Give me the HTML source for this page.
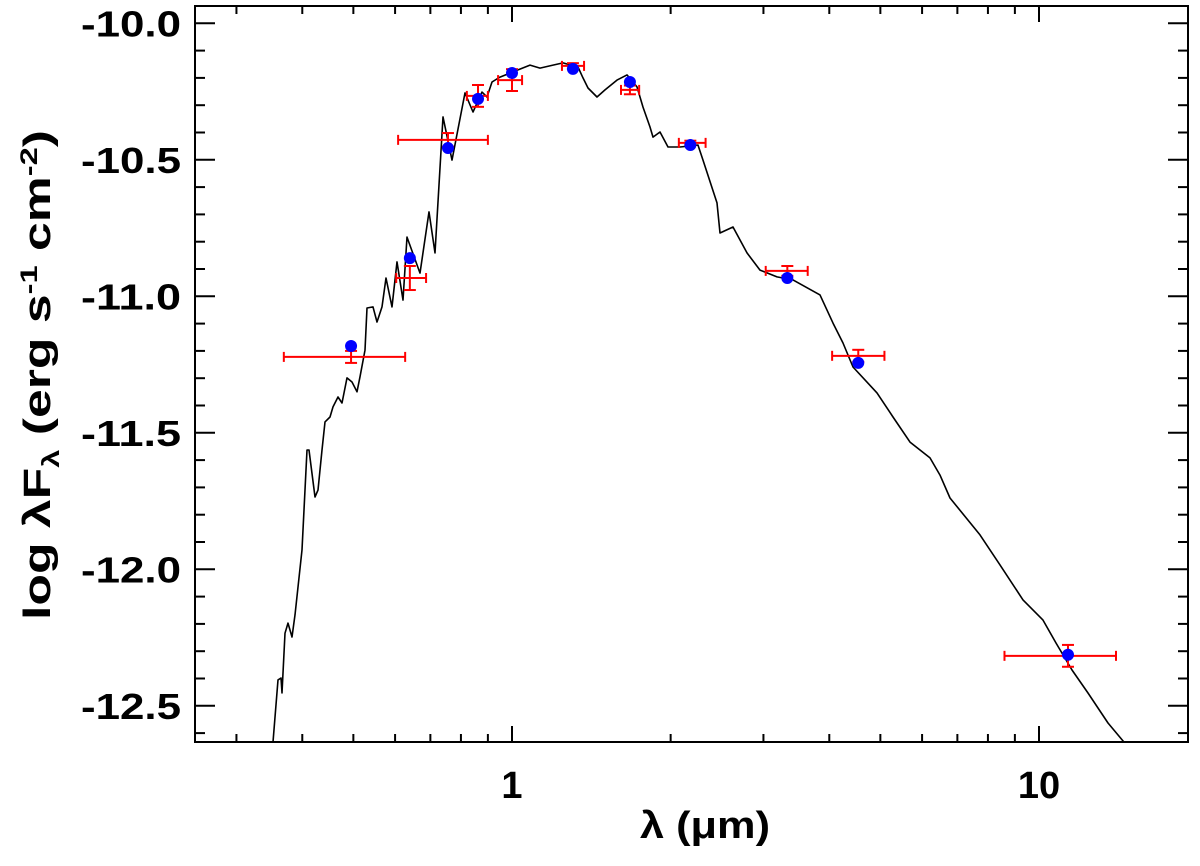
<!DOCTYPE html>
<html><head><meta charset="utf-8"><style>
html,body{margin:0;padding:0;background:#fff;}
svg{display:block;font-family:"Liberation Sans",sans-serif;}
</style></head><body>
<svg id="chart" width="1200" height="866" viewBox="0 0 1200 866" xmlns="http://www.w3.org/2000/svg">
<defs><clipPath id="plotclip"><rect x="195" y="6" width="993" height="736"/></clipPath></defs>
<g id="curve" clip-path="url(#plotclip)"></g>
<g id="errs"></g>
<g id="pts"></g>
<g id="axes"></g>
<text x="705" y="838" text-anchor="middle" font-size="38" font-weight="bold" textLength="130" lengthAdjust="spacingAndGlyphs">λ (μm)</text>
<text transform="translate(50,375) rotate(-90)" text-anchor="middle" font-size="38" font-weight="bold" textLength="490" lengthAdjust="spacingAndGlyphs">log λF<tspan font-size="24" dy="9">λ</tspan><tspan dy="-9"> (erg s</tspan><tspan font-size="24" dy="-13">-1</tspan><tspan dy="13"> cm</tspan><tspan font-size="24" dy="-13">-2</tspan><tspan dy="13">)</tspan></text>
</svg>
<script>
// model spectrum: log10(lambda/um) and log lambda F_lambda
const modelLogLam = [-0.4535,-0.444,-0.4383,-0.4364,-0.4307,-0.425,-0.4175,-0.4118,-0.3985,-0.389,-0.3852,-0.3738,-0.3681,-0.3605,-0.3548,-0.3454,-0.3397,-0.3302,-0.3226,-0.3131,-0.3036,-0.2941,-0.2884,-0.2789,-0.2751,-0.2638,-0.2562,-0.2467,-0.2391,-0.2277,-0.2182,-0.2068,-0.1992,-0.1746,-0.1575,-0.1461,-0.1309,-0.1139,-0.0892,-0.074,-0.0569,-0.0474,-0.038,-0.0228,0.0019,0.0342,0.0531,0.0778,0.0968,0.1252,0.1347,0.1442,0.1613,0.1765,0.1992,0.2182,0.2372,0.2486,0.2619,0.2676,0.2808,0.296,0.3188,0.3529,0.3624,0.389,0.3947,0.4194,0.4459,0.4706,0.5028,0.5332,0.5844,0.6091,0.6281,0.6471,0.6926,0.723,0.7552,0.7932,0.8121,0.8311,0.888,0.926,0.9696,1.0076,1.0323,1.0626,1.093,1.1309,1.1613];
const modelFlux = [-12.633,-12.405,-12.398,-12.453,-12.234,-12.197,-12.248,-12.167,-11.929,-11.563,-11.563,-11.735,-11.71,-11.563,-11.46,-11.442,-11.405,-11.369,-11.391,-11.299,-11.314,-11.35,-11.295,-11.197,-11.043,-11.039,-11.094,-11.039,-10.933,-11.039,-10.874,-11.014,-10.783,-10.915,-10.691,-10.841,-10.343,-10.501,-10.255,-10.325,-10.252,-10.27,-10.215,-10.197,-10.178,-10.153,-10.164,-10.153,-10.145,-10.16,-10.2,-10.237,-10.27,-10.244,-10.208,-10.189,-10.233,-10.307,-10.38,-10.417,-10.398,-10.453,-10.453,-10.446,-10.501,-10.658,-10.768,-10.746,-10.841,-10.904,-10.929,-10.94,-10.995,-11.098,-11.171,-11.259,-11.354,-11.442,-11.534,-11.592,-11.655,-11.739,-11.874,-11.984,-12.112,-12.186,-12.27,-12.369,-12.453,-12.563,-12.633];
// synthetic photometry (blue)
const synLam = [0.495,0.640,0.756,0.862,1.0,1.305,1.674,2.18,3.33,4.54,11.35];
const synFlux = [-11.182,-10.860,-10.457,-10.277,-10.182,-10.167,-10.215,-10.446,-10.933,-11.244,-12.313];
// observed photometry (red)
const obsLam = [0.495,0.640,0.756,0.862,1.0,1.305,1.674,2.18,3.33,4.54,11.35];
const obsLamLo = [0.369,0.603,0.608,0.821,0.941,1.244,1.610,2.073,3.03,4.05,8.6];
const obsLamHi = [0.627,0.687,0.900,0.900,1.045,1.370,1.743,2.33,3.64,5.09,14.0];
const obsFlux = [-11.222,-10.933,-10.427,-10.266,-10.208,-10.156,-10.244,-10.438,-10.907,-11.218,-12.317];
const obsErr = [0.022,0.044,0.025,0.04,0.04,0.01,0.016,0.008,0.018,0.022,0.04];
const yTicks = [-10.0,-10.5,-11.0,-11.5,-12.0,-12.5];
const yTickLabels = ["-10.0","-10.5","-11.0","-11.5","-12.0","-12.5"];
const xTicks = [1,10];
const xTickLabels = ["1","10"];

const X0=195,X1=1188,Y0=6,Y1=742;
function xs(l){return 512+Math.log10(l)*527;}
function xsLog(lg){return 512+lg*527;}
function ys(v){return 23.3+(-10-v)*273;}
const NS="http://www.w3.org/2000/svg";
function mk(tag,attrs,parent){const e=document.createElementNS(NS,tag);for(const k in attrs)e.setAttribute(k,attrs[k]);parent.appendChild(e);return e;}

const curveG=document.getElementById('curve');
let d='';
for(let i=0;i<modelLogLam.length;i++){d+=(i?'L':'M')+xsLog(modelLogLam[i]).toFixed(1)+','+ys(modelFlux[i]).toFixed(1);}
const cp=mk('path',{d:d,fill:'none',stroke:'#000','stroke-width':1.6,'stroke-linejoin':'round'},curveG);



const eg=document.getElementById('errs');
for(let i=0;i<obsLam.length;i++){
  const g=mk('g',{stroke:'#f00','stroke-width':2,fill:'none'},eg);
  
  
  const cx=xs(obsLam[i]),cy=ys(obsFlux[i]),lo=xs(obsLamLo[i]),hi=xs(obsLamHi[i]);
  const ya=ys(obsFlux[i]+obsErr[i]),yb=ys(obsFlux[i]-obsErr[i]);
  mk('line',{x1:lo,y1:cy,x2:hi,y2:cy},g);
  mk('line',{x1:lo,y1:cy-5,x2:lo,y2:cy+5},g);
  mk('line',{x1:hi,y1:cy-5,x2:hi,y2:cy+5},g);
  mk('line',{x1:cx,y1:ya,x2:cx,y2:yb},g);
  mk('line',{x1:cx-6,y1:ya,x2:cx+6,y2:ya},g);
  mk('line',{x1:cx-6,y1:yb,x2:cx+6,y2:yb},g);
}
const pg=document.getElementById('pts');
for(let i=0;i<synLam.length;i++){
  const c=mk('circle',{cx:xs(synLam[i]),cy:ys(synFlux[i]),r:6,fill:'#00f'},pg);
  
  
}
const ag=document.getElementById('axes');
const fr=mk('rect',{x:X0,y:Y0,width:X1-X0,height:Y1-Y0,fill:'none',stroke:'#000','stroke-width':2},ag);


for(let v=-10.0;v>=-12.61;v-=0.1){
  const y=ys(v);const major=Math.abs(v*2-Math.round(v*2))<1e-6;
  const L=major?20:10;
  mk('line',{x1:X0,y1:y,x2:X0+L,y2:y,stroke:'#000','stroke-width':2},ag);
  mk('line',{x1:X1,y1:y,x2:X1-L,y2:y,stroke:'#000','stroke-width':2},ag);
}
for(let i=0;i<yTicks.length;i++){
  const t=mk('text',{x:181,y:ys(yTicks[i])+13,'text-anchor':'end','font-size':36,'font-weight':'bold',textLength:100,lengthAdjust:'spacingAndGlyphs'},ag);
  t.textContent=yTickLabels[i];
  
  
}
const minorX=[0.3,0.4,0.5,0.6,0.7,0.8,0.9,2,3,4,5,6,7,8,9];
for(const l of minorX){const x=xs(l);
  mk('line',{x1:x,y1:Y1,x2:x,y2:Y1-8,stroke:'#000','stroke-width':2},ag);
  mk('line',{x1:x,y1:Y0,x2:x,y2:Y0+8,stroke:'#000','stroke-width':2},ag);}
for(let i=0;i<xTicks.length;i++){const x=xs(xTicks[i]);
  mk('line',{x1:x,y1:Y1,x2:x,y2:Y1-16,stroke:'#000','stroke-width':2},ag);
  mk('line',{x1:x,y1:Y0,x2:x,y2:Y0+16,stroke:'#000','stroke-width':2},ag);
  const t=mk('text',{x:x,y:798,'text-anchor':'middle','font-size':38,'font-weight':'bold'},ag);
  t.textContent=xTickLabels[i];
  
  
}
</script>
</body></html>
